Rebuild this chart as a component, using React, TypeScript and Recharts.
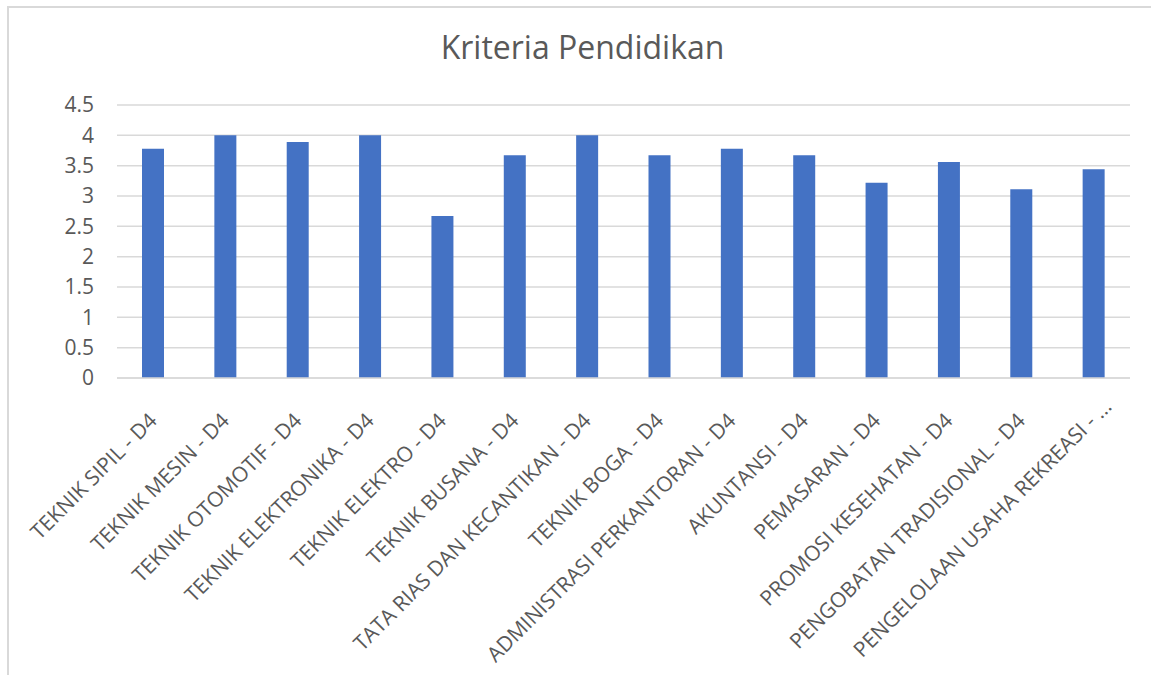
import { Bar, BarChart, CartesianGrid, XAxis, YAxis } from "recharts";

const categories = [
    "TEKNIK SIPIL - D4",
    "TEKNIK MESIN - D4",
    "TEKNIK OTOMOTIF - D4",
    "TEKNIK ELEKTRONIKA - D4",
    "TEKNIK ELEKTRO - D4",
    "TEKNIK BUSANA - D4",
    "TATA RIAS DAN KECANTIKAN - D4",
    "TEKNIK BOGA - D4",
    "ADMINISTRASI PERKANTORAN - D4",
    "AKUNTANSI - D4",
    "PEMASARAN - D4",
    "PROMOSI KESEHATAN - D4",
    "PENGOBATAN TRADISIONAL - D4",
    "PENGELOLAAN USAHA REKREASI - ...",
];

const values = [3.78, 4, 3.89, 4, 2.67, 3.67, 4, 3.67, 3.78, 3.67, 3.22, 3.56, 3.11, 3.44];

const yTicks = [0, 0.5, 1, 1.5, 2, 2.5, 3, 3.5, 4, 4.5];

const data = categories.map((name, i) => ({ name, value: values[i] }));

const FONT = "'Open Sans', sans-serif";
const TEXT = "#595959";
const GRID = "#d9d9d9";

function AngledTick(props: any) {
    const { x, y, payload } = props;
    const label: string = payload.value;
    // truncated label keeps its full text box, so it sits a bit further along the diagonal
    const slide = label.endsWith("...") ? 20 : 0;
    const tx = x + 5 + slide * 0.707;
    const ty = y + 36 - slide * 0.707;
    return (
        <text
            x={tx}
            y={ty}
            transform={`rotate(-45 ${tx} ${ty})`}
            textAnchor="end"
            fill={TEXT}
            fontSize={21}
            fontFamily={FONT}
        >
            {label}
        </text>
    );
}

export default function App() {
    return (
        <div style={{ position: "absolute", left: 0, top: 0, width: 1151, height: 675, background: "#fff", overflow: "hidden" }}>
            <div
                style={{
                    position: "absolute",
                    left: 7,
                    top: 6,
                    width: 1200,
                    height: 700,
                    borderLeft: `2px solid ${GRID}`,
                    borderTop: `2px solid ${GRID}`,
                }}
            />
            <div
                style={{
                    position: "absolute",
                    left: 0,
                    width: 1165,
                    top: 25,
                    textAlign: "center",
                    fontFamily: FONT,
                    fontSize: 32,
                    color: TEXT,
                }}
            >
                Kriteria Pendidikan
            </div>
            <div style={{ position: "absolute", left: 0, top: 0 }}>
                <BarChart
                    width={1151}
                    height={675}
                    data={data}
                    margin={{ top: 105, right: 21, bottom: 0, left: 0 }}
                >
                    <CartesianGrid vertical={false} stroke={GRID} strokeWidth={1.5} />
                    <XAxis
                        dataKey="name"
                        interval={0}
                        height={297}
                        tickLine={false}
                        axisLine={{ stroke: GRID, strokeWidth: 1.5 }}
                        tick={<AngledTick />}
                    />
                    <YAxis
                        width={117}
                        domain={[0, 4.5]}
                        ticks={yTicks}
                        axisLine={false}
                        tickLine={false}
                        tickSize={0}
                        tickMargin={23}
                        tick={{ fill: TEXT, fontSize: 21, fontFamily: FONT }}
                    />
                    <Bar dataKey="value" fill="#4472c4" barSize={22} isAnimationActive={false} />
                </BarChart>
            </div>
        </div>
    );
}
